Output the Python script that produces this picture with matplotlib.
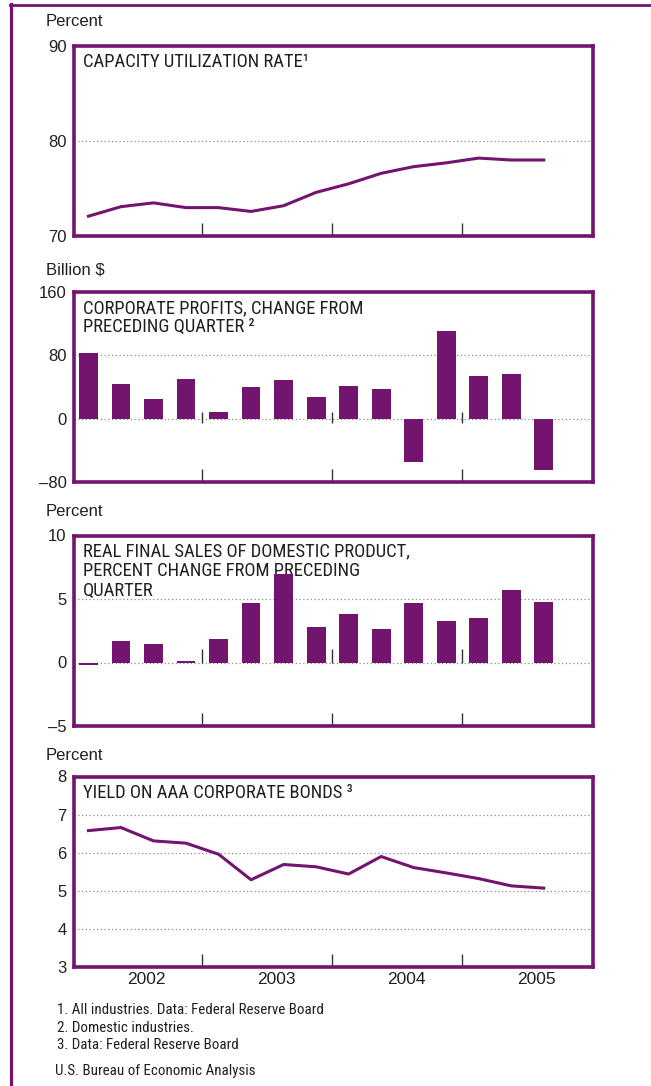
import matplotlib
matplotlib.use('Agg')
import matplotlib.pyplot as plt
from matplotlib.lines import Line2D

# ---------------------------------------------------------------------------
# datos (trimestres 2002 T1 .. 2005 T3)
quarters    = ['2002Q1', '2002Q2', '2002Q3', '2002Q4',
               '2003Q1', '2003Q2', '2003Q3', '2003Q4',
               '2004Q1', '2004Q2', '2004Q3', '2004Q4',
               '2005Q1', '2005Q2', '2005Q3']
cap_util    = [72.1, 73.1, 73.5, 73.0, 73.0, 72.6, 73.2, 74.6,
               75.5, 76.6, 77.3, 77.7, 78.2, 78.0, 78.0]
profits     = [83, 44, 25, 50, 8, 40, 49, 27, 41, 37, -54, 110, 54, 56, -64]
sales       = [-0.2, 1.73, 1.42, 0.08, 1.88, 4.71, 6.99, 2.83,
               3.85, 2.67, 4.71, 3.30, 3.53, 5.73, 4.79]
aaa_yield   = [6.58, 6.66, 6.31, 6.25, 5.96, 5.29, 5.69, 5.63,
               5.44, 5.90, 5.61, 5.47, 5.32, 5.13, 5.07]
years       = ['2002', '2003', '2004', '2005']
footnotes   = ['1. All industries. Data: Federal Reserve Board',
               '2. Domestic industries.',
               '3. Data: Federal Reserve Board']
source      = 'U.S. Bureau of Economic Analysis'

# ---------------------------------------------------------------------------
PURPLE      = '#73146e'
GRID_COL    = '#8c8c8c'
TICK_COL    = '#333333'
TEXT_COL    = '#231f20'
NARROW      = ['Liberation Sans Narrow', 'Roboto Condensed', 'Arial Narrow',
               'Open Sans Condensed', 'Noto Sans Condensed',
               'DejaVu Sans Condensed', 'Liberation Sans']
REGULAR     = ['Liberation Sans', 'DejaVu Sans']
W, H        = 651.0, 1086.0
BOX_L, BOX_R = 73.5, 592.5
BOX_H       = 190.5
XLIM        = (-0.46, 15.5)
YEAR_TICKS  = [3.5, 7.5, 11.5]

x = list(range(len(quarters)))

fig = plt.figure(figsize=(W / 100, H / 100), dpi=100)

# marco exterior
fig.add_artist(Line2D([10.5 / W, 10.5 / W], [0, 1 - 4.0 / H], color=PURPLE,
                      lw=2.3, transform=fig.transFigure))
fig.add_artist(Line2D([9.5 / W, 1.0], [1 - 5.0 / H, 1 - 5.0 / H], color=PURPLE,
                      lw=2.0, transform=fig.transFigure))


def make_panel(top, ylim, yticks, ylabels, grid, unit, title, unit_y):
    ax = fig.add_axes([BOX_L / W, 1 - (top + BOX_H) / H,
                       (BOX_R - BOX_L) / W, BOX_H / H])
    ax.set_xlim(*XLIM)
    ax.set_ylim(*ylim)
    for s in ax.spines.values():
        s.set_color(PURPLE)
        s.set_linewidth(2.6)
    ax.set_yticks(yticks)
    ax.set_yticklabels(ylabels, family=REGULAR, fontsize=12, color=TEXT_COL)
    ax.tick_params(axis='y', length=0, pad=5)
    ax.set_xticks(YEAR_TICKS)
    ax.set_xticklabels([])
    ax.tick_params(axis='x', direction='in', length=9.5, width=1.0,
                   color=TICK_COL)
    for g in grid:
        ax.axhline(g, color=GRID_COL, lw=0.9, ls=(0, (1, 2)), zorder=0)
    ax.text(0.018, 0.962, title, transform=ax.transAxes, ha='left', va='top',
            family=NARROW, stretch='condensed', fontsize=13.4,
            color=TEXT_COL, linespacing=1.1)
    fig.text(46 / W, 1 - unit_y / H, unit, family=REGULAR, fontsize=12,
             color=TEXT_COL, ha='left', va='center')
    return ax


# --- panel 1 ---------------------------------------------------------------
ax1 = make_panel(45.7, (70, 90), [70, 80, 90], ['70', '80', '90'], [80],
                 'Percent', 'CAPACITY UTILIZATION RATE\u00b9', 21)
ax1.plot(x, cap_util, color=PURPLE, lw=2.2, solid_joinstyle='round', zorder=3)

# --- panel 2 ---------------------------------------------------------------
ax2 = make_panel(291.7, (-80, 160), [-80, 0, 80, 160],
                 ['\u201380', '0', '80', '160'], [0, 80], 'Billion $',
                 'CORPORATE PROFITS, CHANGE FROM\nPRECEDING QUARTER \u00b2', 270)
ax2.bar(x, profits, width=0.58, color=PURPLE, zorder=3)
ax2.vlines(YEAR_TICKS, -5, 9, color=TICK_COL, lw=1.0, zorder=4)

# --- panel 3 ---------------------------------------------------------------
ax3 = make_panel(535.5, (-5, 10), [-5, 0, 5, 10],
                 ['\u20135', '0', '5', '10'], [0, 5], 'Percent',
                 'REAL FINAL SALES OF DOMESTIC PRODUCT,\n'
                 'PERCENT CHANGE FROM PRECEDING\nQUARTER', 511)
ax3.bar(x, sales, width=0.58, color=PURPLE, zorder=3)
ax3.vlines(YEAR_TICKS, 0, 1.05, color=TICK_COL, lw=1.0, zorder=2)

# --- panel 4 ---------------------------------------------------------------
ax4 = make_panel(776.5, (3, 8), [3, 4, 5, 6, 7, 8],
                 ['3', '4', '5', '6', '7', '8'], [4, 5, 6, 7], 'Percent',
                 'YIELD ON AAA CORPORATE BONDS \u00b3', 755)
ax4.plot(x, aaa_yield, color=PURPLE, lw=2.2, solid_joinstyle='round', zorder=3)
for k, yr in enumerate(years):
    ax4.text(1.78 + 4 * k, -0.065, yr, transform=ax4.get_xaxis_transform(),
             ha='center', va='center', family=REGULAR, fontsize=12.5,
             color=TEXT_COL)

# --- notas -----------------------------------------------------------------
for k, note in enumerate(footnotes):
    fig.text(57 / W, 1 - (1010 + 17.5 * k) / H, note, family=NARROW,
             stretch='condensed', fontsize=10.8, color=TEXT_COL,
             ha='left', va='center')
fig.text(55 / W, 1 - 1071 / H, source, family=NARROW, stretch='condensed',
         fontsize=10.8, color=TEXT_COL, ha='left', va='center')

fig.savefig('out.png', dpi=100)
